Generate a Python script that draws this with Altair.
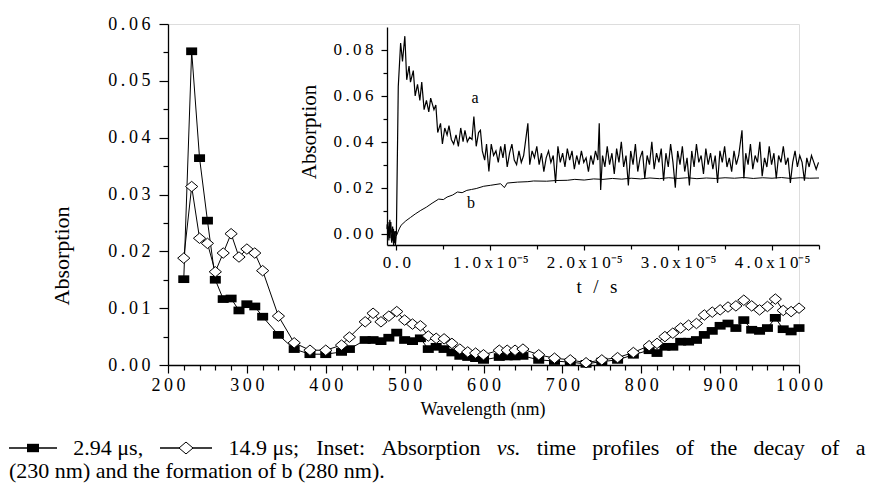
import altair as alt
import pandas as pd

# ---------------- data ----------------
wavelength_nm = [220, 230, 240, 250, 260, 270, 280, 290, 300, 310, 320,
                 340, 360, 380, 400, 420, 430,
                 450, 460, 470, 480, 490, 500, 510, 520, 530, 540, 550, 560, 570, 580, 590, 600,
                 620, 630, 640, 650,
                 670, 690, 710, 730, 750, 770, 790,
                 810, 820, 830, 840, 850, 860, 870, 880, 890, 900, 910, 920, 930, 940, 950, 960,
                 970, 980, 990, 1000]
abs_2_94us = [0.0151, 0.0552, 0.0364, 0.0254, 0.0150, 0.0116, 0.0117, 0.0096, 0.0107, 0.0103, 0.0085,
              0.0053, 0.0028, 0.0019, 0.0019, 0.0023, 0.0028,
              0.0044, 0.0044, 0.0042, 0.0048, 0.0057, 0.0044, 0.0042, 0.0047, 0.0028, 0.0032, 0.0028,
              0.0022, 0.0016, 0.0014, 0.0012, 0.0009,
              0.0014, 0.0015, 0.0015, 0.0016,
              0.0009, 0.0007, 0.0005, 0.0002, 0.0006, 0.0009, 0.0018,
              0.0026, 0.0021, 0.0032, 0.0032, 0.0041, 0.0041, 0.0044, 0.0053, 0.0060, 0.0069, 0.0073,
              0.0065, 0.0079, 0.0062, 0.0060, 0.0065, 0.0083, 0.0063, 0.0059, 0.0065]
abs_14_9us = [0.0188, 0.0314, 0.0223, 0.0214, 0.0164, 0.0197, 0.0231, 0.0190, 0.0204, 0.0197, 0.0166,
              0.0086, 0.0039, 0.0026, 0.0026, 0.0035, 0.0049,
              0.0076, 0.0091, 0.0076, 0.0086, 0.0094, 0.0079, 0.0072, 0.0069, 0.0051, 0.0047, 0.0046,
              0.0038, 0.0028, 0.0023, 0.0021, 0.0018,
              0.0026, 0.0026, 0.0026, 0.0028,
              0.0018, 0.0012, 0.0009, 0.0004, 0.0009, 0.0013, 0.0022,
              0.0034, 0.0038, 0.0050, 0.0056, 0.0065, 0.0070, 0.0073, 0.0088, 0.0093, 0.0097, 0.0102,
              0.0104, 0.0114, 0.0104, 0.0097, 0.0103, 0.0116, 0.0096, 0.0094, 0.0100]

# inset: trace a (230 nm), time in microseconds
time_a_us = [-1.0, -0.9, -0.8, -0.7, -0.6, -0.5, -0.4, -0.3, -0.2, -0.1, 0.0, 0.2, 0.45, 0.65, 0.9,
             1.1, 1.35, 1.5, 1.8, 2.0, 2.25, 2.5, 2.7, 2.95, 3.2, 3.45, 3.65, 4.0, 4.2, 4.4, 4.7,
             4.9, 5.15, 5.4, 5.6, 5.85, 6.1, 6.35, 6.6, 6.85, 7.1, 7.3, 7.55, 7.8, 8.05, 8.25, 8.5,
             8.75, 8.95, 9.15, 9.4, 9.6, 9.85, 10.1, 10.35, 10.6, 10.85, 11.1, 11.35, 11.55, 11.8,
             12.05, 12.3, 12.55, 12.8, 13.05, 13.3, 13.55, 14.0, 14.2, 14.45, 14.7, 14.95, 15.2,
             15.45, 15.7, 15.95, 16.2, 16.45, 16.7, 16.95, 17.2, 17.45, 17.7, 17.95, 18.2, 18.45,
             18.7, 18.95, 19.2, 19.45, 19.7, 19.95, 20.2, 20.45, 20.7, 20.95, 21.2, 21.45, 21.6,
             21.75, 21.95, 22.2, 22.45, 22.7, 22.95, 23.2, 23.45, 23.7, 23.95, 24.2, 24.45, 24.7,
             24.95, 25.2, 25.45, 25.7, 25.95, 26.2, 26.45, 26.7, 26.95, 27.2, 27.45, 27.7, 27.95,
             28.2, 28.45, 28.7, 28.95, 29.2, 29.45, 29.7, 29.95, 30.2, 30.45, 30.7, 30.95, 31.2,
             31.45, 31.7, 31.95, 32.2, 32.45, 32.7, 32.95, 33.2, 33.45, 33.7, 33.95, 34.2, 34.45,
             34.7, 34.95, 35.2, 35.45, 35.7, 35.95, 36.2, 36.45, 36.8, 37.0, 37.2, 37.45, 37.7,
             37.95, 38.2, 38.45, 38.7, 38.95, 39.2, 39.45, 39.7, 39.95, 40.2, 40.45, 40.7, 40.95,
             41.2, 41.45, 41.7, 41.95, 42.2, 42.45, 42.7, 42.95, 43.2, 43.45, 43.7, 43.95, 44.2,
             44.45, 44.7, 44.95]
abs_a = [0.002, 0.005, -0.003, 0.006, 0.000, -0.004, 0.003, -0.005, 0.001, -0.005, 0.000, 0.064,
         0.083, 0.075, 0.086,
         0.067, 0.073, 0.066, 0.071, 0.060, 0.065, 0.058, 0.066, 0.054, 0.058, 0.053, 0.059, 0.054,
         0.056, 0.044, 0.048,
         0.039, 0.046, 0.043, 0.047, 0.041, 0.039, 0.043, 0.038, 0.046, 0.040, 0.045, 0.040, 0.042,
         0.041, 0.051, 0.038,
         0.044, 0.045, 0.036, 0.032, 0.039, 0.027, 0.039, 0.034, 0.036, 0.031, 0.038, 0.033, 0.039,
         0.029,
         0.035, 0.039, 0.032, 0.030, 0.036, 0.031, 0.034, 0.048, 0.030, 0.036, 0.033, 0.038, 0.030,
         0.035, 0.027, 0.033, 0.036, 0.031, 0.034, 0.022, 0.038, 0.031, 0.035, 0.029, 0.037, 0.032,
         0.036, 0.028, 0.034, 0.030, 0.036, 0.031, 0.033, 0.027, 0.034, 0.030, 0.036, 0.032, 0.048,
         0.019, 0.034, 0.029, 0.038, 0.030, 0.035, 0.026, 0.037, 0.031, 0.040, 0.029, 0.034, 0.021,
         0.036, 0.030, 0.039, 0.027, 0.033, 0.036, 0.024, 0.034, 0.030, 0.040, 0.028, 0.035, 0.031,
         0.037, 0.023, 0.035, 0.029, 0.039, 0.031, 0.020, 0.036, 0.030, 0.038, 0.027, 0.033, 0.021,
         0.036, 0.029, 0.039, 0.031, 0.034, 0.026, 0.037, 0.030, 0.035, 0.028, 0.034, 0.022, 0.036,
         0.031, 0.038, 0.029, 0.033, 0.027, 0.036, 0.030, 0.034, 0.045, 0.024, 0.035, 0.030, 0.039,
         0.028, 0.034, 0.031, 0.040, 0.025, 0.033, 0.029, 0.038, 0.030, 0.035, 0.024, 0.034, 0.031,
         0.038, 0.030, 0.033, 0.022, 0.031, 0.036, 0.029, 0.034, 0.031, 0.023, 0.033, 0.029, 0.034,
         0.031, 0.028, 0.031]

# inset: trace b (280 nm)
time_b_us = [-1.0, -0.9, -0.8, -0.7, -0.6, -0.5, -0.4, -0.3, -0.2, -0.1, 0.0, 0.3, 0.5, 1.0, 1.5,
             2.0, 2.6, 3.2, 3.8, 4.5, 5.0, 5.4, 6.0, 6.5, 7.0, 7.5, 8.0, 8.5, 9.3, 10.0, 11.1, 11.5,
             11.8, 12.9, 14.0, 14.6, 16.0, 17.0, 18.2, 19.0, 20.0, 21.0, 22.0, 23.0, 24.0, 25.0,
             26.0, 27.0, 28.0, 29.0, 30.0, 31.0, 32.0, 33.0, 34.0, 35.0, 36.0, 37.0, 38.0, 39.0,
             40.0, 41.0, 42.0, 43.0, 44.0, 45.0]
abs_b = [0.004, -0.001, 0.003, -0.002, 0.005, 0.000, -0.003, 0.002, -0.004, 0.001, -0.001, 0.002,
         0.0036, 0.0055, 0.0070, 0.0085, 0.0101, 0.0115, 0.0132, 0.0150, 0.0148, 0.0159, 0.0168,
         0.0181, 0.0178, 0.0188, 0.0192, 0.0196, 0.0206, 0.0210, 0.0217, 0.0200, 0.0220, 0.0224,
         0.0226, 0.0229, 0.0228, 0.0231, 0.0232, 0.0236, 0.0233, 0.0238, 0.0236, 0.0240, 0.0237,
         0.0241, 0.0238, 0.0242, 0.0239, 0.0243, 0.0240, 0.0243, 0.0239, 0.0242, 0.0240, 0.0243,
         0.0241, 0.0244, 0.0240, 0.0243, 0.0241, 0.0244, 0.0240, 0.0243, 0.0241, 0.0242]

main_x_ticks = [200, 300, 400, 500, 600, 700, 800, 900, 1000]
main_x_minor = [220, 240, 260, 280, 320, 340, 360, 380, 420, 440, 460, 480, 520, 540, 560, 580,
                620, 640, 660, 680, 720, 740, 760, 780, 820, 840, 860, 880, 920, 940, 960, 980]
main_y_ticks = [0.0, 0.01, 0.02, 0.03, 0.04, 0.05, 0.06]
main_y_minor = [0.005, 0.015, 0.025, 0.035, 0.045, 0.055]
inset_x_ticks = [0.0, 1e-5, 2e-5, 3e-5, 4e-5]
inset_x_minor = [0.5e-5, 1.5e-5, 2.5e-5, 3.5e-5, 4.5e-5]
inset_y_ticks = [0.0, 0.02, 0.04, 0.06, 0.08]
inset_y_minor = [0.01, 0.03, 0.05, 0.07]

caption_words_1 = ["2.94 \u03bcs,", "14.9 \u03bcs;", "Inset:", "Absorption", "vs.", "time",
                   "profiles", "of", "the", "decay", "of", "a"]
caption_line_2 = "(230 nm) and the formation of b (280 nm)."

# ---------------- layout ----------------
FONT = "Liberation Serif"
TS = "\u2009"
W, H = 631, 341
PAD_L, PAD_T = 160, 16
INSET_X = [219, 651]
INSET_Y = [221, 3]

df_main = pd.DataFrame({"wl": wavelength_nm, "a1": abs_2_94us, "a2": abs_14_9us})
df_a = pd.DataFrame({"t": [v * 1e-6 for v in time_a_us], "A": abs_a})
df_b = pd.DataFrame({"t": [v * 1e-6 for v in time_b_us], "A": abs_b})
one = pd.DataFrame({"k": [0]})

SQ = "M-1,-0.7L1,-0.7L1,0.7L-1,0.7Z"
DI = "M0,-0.85L1,0L0,0.85L-1,0Z"

spaced2 = "join(split(format(datum.value, '.2f'), ''), '" + TS + "')"
spaced_int = "join(split(format(datum.value, 'd'), ''), '" + TS + "')"
inset_xlab = ("datum.value == 0 ? '0" + TS + "." + TS + "0' : join(split(format(datum.value * 100000, '.1f'), ''), '"
              + TS + "') + '" + TS + "x" + TS + "1" + TS + "0\u207b\u2075'")

axis_common = dict(grid=False, title=None, domainColor="black", tickColor="black",
                   labelColor="black", labelFont=FONT, domainWidth=1.3, tickWidth=1.2,
                   labelOverlap=False, labelFlush=False)

xs_main = alt.Scale(domain=[200, 1000], nice=False, zero=False)
ys_main = alt.Scale(domain=[0, 0.06], nice=False, zero=False)
xs_in = alt.Scale(domain=[-1e-6, 4.5e-5], range=INSET_X, nice=False, zero=False)
ys_in = alt.Scale(domain=[-0.005, 0.09], range=INSET_Y, nice=False, zero=False)

main_x_axis = alt.Axis(orient="bottom", values=main_x_ticks, labelExpr=spaced_int, tickSize=8,
                       labelPadding=3, labelFontSize=18, **axis_common)
main_y_axis = alt.Axis(orient="left", values=main_y_ticks, labelExpr=spaced2, tickSize=9,
                       labelPadding=9, labelFontSize=18, **axis_common)
minor_common = dict(grid=False, title=None, labels=False, domain=False, tickColor="black", tickWidth=1.2)
main_x_minor_axis = alt.Axis(orient="bottom", values=main_x_minor, tickSize=5, **minor_common)
main_y_minor_axis = alt.Axis(orient="left", values=main_y_minor, tickSize=5, **minor_common)

in_x_axis = alt.Axis(orient="bottom", offset=INSET_Y[0] - H, values=inset_x_ticks, labelExpr=inset_xlab,
                     tickSize=5, labelPadding=4, labelFontSize=17, **axis_common)
in_y_axis = alt.Axis(orient="left", offset=-INSET_X[0], values=inset_y_ticks, labelExpr=spaced2,
                     tickSize=6, labelPadding=8, labelFontSize=17, **axis_common)
in_x_minor_axis = alt.Axis(orient="bottom", offset=INSET_Y[0] - H, values=inset_x_minor, tickSize=4,
                           **minor_common)
in_y_minor_axis = alt.Axis(orient="left", offset=-INSET_X[0], values=inset_y_minor, tickSize=4,
                           **minor_common)

base = alt.Chart(df_main)
line1 = base.mark_line(color="black", strokeWidth=1).encode(
    x=alt.X("wl:Q", scale=xs_main, axis=main_x_axis),
    y=alt.Y("a1:Q", scale=ys_main, axis=main_y_axis))
minor_main = base.mark_point(opacity=0).encode(
    x=alt.X("wl:Q", scale=xs_main, axis=main_x_minor_axis),
    y=alt.Y("a1:Q", scale=ys_main, axis=main_y_minor_axis))
pts1 = base.mark_point(shape=SQ, size=121, filled=True, color="black", opacity=1).encode(
    x=alt.X("wl:Q", scale=xs_main, axis=None),
    y=alt.Y("a1:Q", scale=ys_main, axis=None))
line2 = base.mark_line(color="black", strokeWidth=1).encode(
    x=alt.X("wl:Q", scale=xs_main, axis=None),
    y=alt.Y("a2:Q", scale=ys_main, axis=None))
pts2 = base.mark_point(shape=DI, size=150, filled=False, fill="white", fillOpacity=1,
                       stroke="black", strokeWidth=1, opacity=1).encode(
    x=alt.X("wl:Q", scale=xs_main, axis=None),
    y=alt.Y("a2:Q", scale=ys_main, axis=None))

inset_a = alt.Chart(df_a).mark_line(color="black", strokeWidth=1.2).encode(
    x=alt.X("t:Q", scale=xs_in, axis=in_x_axis),
    y=alt.Y("A:Q", scale=ys_in, axis=in_y_axis))
inset_b = alt.Chart(df_b).mark_line(color="black", strokeWidth=1).encode(
    x=alt.X("t:Q", scale=xs_in, axis=in_x_minor_axis),
    y=alt.Y("A:Q", scale=ys_in, axis=in_y_minor_axis))


def txt(s, x, y, size=18, angle=0, align="center", style="normal"):
    return alt.Chart(one).mark_text(text=s, font=FONT, fontSize=size, angle=angle, align=align,
                                    baseline="middle", color="black", fontStyle=style).encode(
        x=alt.value(x), y=alt.value(y))


texts = [
    txt("Absorption", -106, 232, size=22, angle=270),
    txt("Wavelength (nm)", 315, 386, size=18),
    txt("Absorption", 142, 108, size=21, angle=270),
    txt("t" + TS * 3 + "/" + TS * 3 + "s", 429, 263, size=19),
    txt("a", 307, 74, size=16),
    txt("b", 303, 179, size=16),
]

# caption, justified line 1 (word left edges in plot coordinates)
CAP = 22
Y1, Y2 = 424, 447
word_x = [-94.7, 60.6, 148.2, 213.4, 328.7, 368.8, 424.2, 507.7, 542.3, 585.5, 653.1, 687.7]
for w, xw in zip(caption_words_1, word_x):
    texts.append(txt(w, xw, Y1, size=CAP, align="left", style="italic" if w == "vs." else "normal"))
texts.append(txt(caption_line_2, -159, Y2, size=CAP, align="left"))

leg_rule1 = alt.Chart(one).mark_rule(color="black", strokeWidth=1.3).encode(
    x=alt.value(-159), x2=alt.value(-111), y=alt.value(Y1))
leg_sq = alt.Chart(one).mark_point(shape=SQ, size=144, filled=True, color="black", opacity=1).encode(
    x=alt.value(-135), y=alt.value(Y1))
leg_rule2 = alt.Chart(one).mark_rule(color="black", strokeWidth=1.3).encode(
    x=alt.value(-8), x2=alt.value(44), y=alt.value(Y1))
leg_di = alt.Chart(one).mark_point(shape=DI, size=196, filled=False, fill="white", fillOpacity=1,
                                   stroke="black", strokeWidth=1, opacity=1).encode(
    x=alt.value(18), y=alt.value(Y1))

chart = alt.layer(
    inset_b, inset_a, line1, minor_main, pts1, line2, pts2,
    *texts, leg_rule1, leg_sq, leg_rule2, leg_di
).resolve_scale(x="independent", y="independent").resolve_axis(
    x="independent", y="independent"
).properties(
    width=W, height=H,
    autosize=alt.AutoSizeParams(type="none"),
    padding={"left": PAD_L, "top": PAD_T, "right": 68, "bottom": 122},
).configure_view(stroke=None).configure(background="white")

chart.save("out.html", embed_options={"renderer": "svg", "actions": False})
